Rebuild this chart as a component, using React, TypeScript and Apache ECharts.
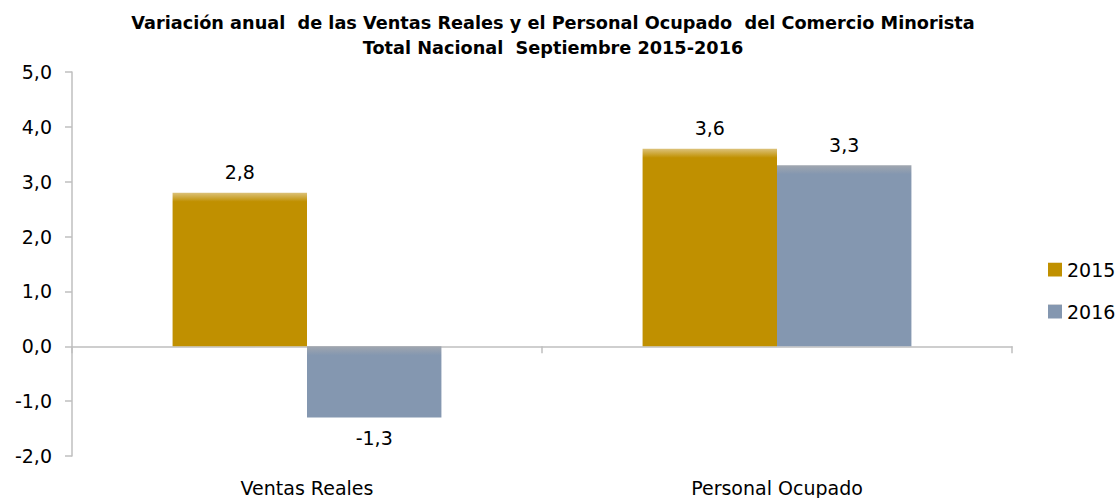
import React, { useEffect, useRef } from "react";
import * as echarts from "echarts";

const categories = ["Ventas Reales", "Personal Ocupado"];
const seriesNames = ["2015", "2016"];
const values2015 = [2.8, 3.6];
const values2016 = [-1.3, 3.3];
const yTicks = { min: -2, max: 5, interval: 1 };
const titleLines = [
  "Variación anual  de las Ventas Reales y el Personal Ocupado  del Comercio Minorista",
  "Total Nacional  Septiembre 2015-2016",
];

const fmt = (v: number) => v.toFixed(1).replace(".", ",");

const PX_PER_UNIT = 54.86;
const STRIP = 9;

function grad(base: string, light: string, frac: number) {
  return new echarts.graphic.LinearGradient(0, 0, 0, 1, [
    { offset: 0, color: light },
    { offset: Math.min(frac, 0.5), color: base },
    { offset: 1, color: base },
  ]);
}

function makeData(vals: number[], base: string, light: string) {
  return vals.map((v) => {
    const h = Math.abs(v) * PX_PER_UNIT;
    return {
      value: v,
      itemStyle: { color: grad(base, light, STRIP / h) },
      label: { position: v < 0 ? "bottom" : "top" },
    };
  });
}

export default function App() {
  const ref = useRef<HTMLDivElement>(null);
  useEffect(() => {
    document.body.style.margin = "0";
    if (!ref.current) return;
    const chart = echarts.init(ref.current, undefined, { renderer: "svg" });
    const font = "'DejaVu Sans', sans-serif";
    const fs = 19;
    const c1 = "#C09000";
    const c1l = "#DCC27A";
    const c2 = "#8497B0";
    const c2l = "#A0A6AF";
    chart.setOption({
      animation: false,
      textStyle: { fontFamily: font },
      title: {
        text: titleLines.join("\n"),
        left: 548,
        textAlign: "center",
        top: 5,
        textStyle: {
          fontFamily: font,
          fontWeight: "bold",
          fontSize: 17.7,
          lineHeight: 25,
          color: "#000",
        },
      },
      legend: {
        orient: "vertical",
        left: 1043,
        top: 255,
        itemWidth: 14,
        itemHeight: 14,
        itemGap: 23,
        itemTextGap: 7,
        icon: "rect",
        textStyle: { fontFamily: font, fontSize: fs, color: "#000" },
        data: seriesNames,
      },
      grid: { left: 72, right: 104, top: 72, bottom: 42 },
      xAxis: [
        {
          type: "category",
          data: categories,
          position: "bottom",
          axisLine: { show: false, onZero: false },
          axisTick: { show: false },
          axisLabel: { fontFamily: font, fontSize: fs, color: "#000", margin: 22 },
        },
        {
          type: "category",
          data: categories,
          position: "bottom",
          axisLine: { show: true, onZero: true, onZeroAxisIndex: 0, lineStyle: { color: "#BFBFBF", width: 1.5 } },
          axisTick: { show: true, length: 7, lineStyle: { color: "#BFBFBF", width: 1.5 } },
          axisLabel: { show: false },
        },
      ],
      yAxis: {
        type: "value",
        min: yTicks.min,
        max: yTicks.max,
        interval: yTicks.interval,
        splitLine: { show: false },
        axisLine: { show: true, lineStyle: { color: "#BFBFBF", width: 1.5 } },
        axisTick: { show: true, length: 7, lineStyle: { color: "#BFBFBF", width: 1.5 } },
        axisLabel: {
          formatter: (v: number) => fmt(v),
          fontFamily: font,
          fontSize: fs,
          color: "#000",
          margin: 20,
        },
      },
      series: [
        {
          name: seriesNames[0],
          type: "bar",
          xAxisIndex: 0,
          barWidth: "28.6%",
          barGap: "0%",
          itemStyle: { color: grad(c1, c1l, 0.06) },
          label: {
            show: true,
            distance: 11,
            fontFamily: font,
            fontSize: fs,
            color: "#000",
            formatter: (p: any) => fmt(p.value),
          },
          data: makeData(values2015, c1, c1l),
        },
        {
          name: seriesNames[1],
          type: "bar",
          xAxisIndex: 0,
          barWidth: "28.6%",
          barGap: "0%",
          itemStyle: { color: grad(c2, c2l, 0.06) },
          label: {
            show: true,
            distance: 11,
            fontFamily: font,
            fontSize: fs,
            color: "#000",
            formatter: (p: any) => fmt(p.value),
          },
          data: makeData(values2016, c2, c2l),
        },
      ],
    });
    return () => chart.dispose();
  }, []);
  return <div ref={ref} style={{ width: 1116, height: 498 }} />;
}
